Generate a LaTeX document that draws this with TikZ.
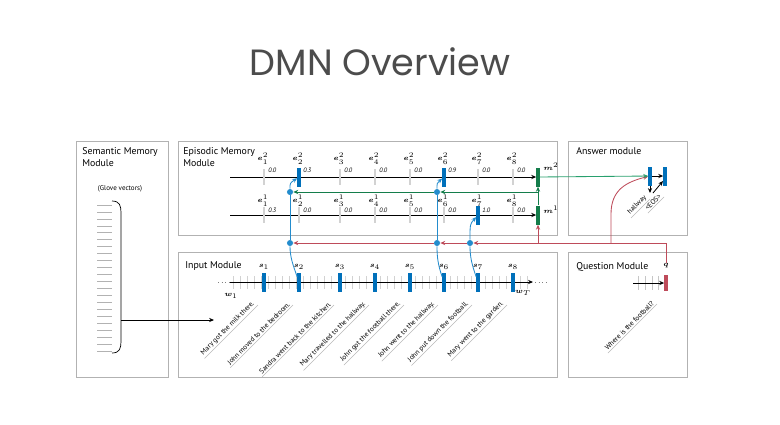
\documentclass[tikz,border=0pt]{standalone}
\usepackage{fontspec}
\usepackage{bm}
\setmainfont{PT Sans}
\newfontfamily\titlefont{Poppins}
\usetikzlibrary{arrows.meta,calc,positioning}

\definecolor{barblue}{RGB}{0,112,186}
\definecolor{attblue}{RGB}{35,140,205}
\definecolor{memgreen}{RGB}{20,125,75}
\definecolor{ansgreen}{RGB}{40,160,110}
\definecolor{qred}{RGB}{190,75,90}

\begin{document}
\begin{tikzpicture}[
  x=0.025cm, y=-0.025cm,
  modbox/.style={draw=gray!60, line width=0.7pt},
  modlabel/.style={anchor=north west, inner sep=0pt, align=left,
                   font=\fontsize{7}{8.5}\selectfont},
  etick/.style={fill=gray!35, inner sep=0pt, minimum width=2pt, minimum height=11.4pt},
  hbar/.style={fill=barblue, inner sep=0pt, minimum width=2.2pt, minimum height=13.5pt},
  mbar/.style={fill=memgreen, inner sep=0pt, minimum width=2.2pt, minimum height=13.5pt},
  qbar/.style={fill=qred, inner sep=0pt, minimum width=2.2pt, minimum height=12pt},
  elab/.style={inner sep=0pt, font=\fontsize{4.6}{5.5}\selectfont},
  val/.style={anchor=west, inner sep=0pt, font=\fontsize{4.5}{5}\selectfont\itshape},
  sent/.style={rotate=45, anchor=south east, inner sep=1pt,
               font=\fontsize{5}{6}\selectfont,
               append after command={(\tikzlastnode.south west) edge[draw=gray!55, line width=0.3pt] (\tikzlastnode.south east)}},
  dot/.style={circle, fill=attblue, inner sep=0pt, minimum size=4.3pt},
  tline/.style={line width=0.6pt},
  gline/.style={draw=memgreen, line width=0.6pt},
  rline/.style={draw=qred, line width=0.6pt},
  bline/.style={draw=attblue, line width=0.6pt},
  >={Stealth[length=3.5pt,width=3pt]}
]
\useasboundingbox (0,0) rectangle (780,424);
\fill[white] (0,0) rectangle (780,424);

% Title
\node[anchor=base, inner sep=0pt, font=\titlefont\fontsize{26}{30}\selectfont, text=black!70] (title) at (380,75) {DMN Overview};

% Module frames
\draw[modbox] (76,141) rectangle (168,377);
\draw[modbox] (178,141) rectangle (557,235);
\draw[modbox] (178,252) rectangle (557,377);
\draw[modbox] (568,141) rectangle (687,235);
\draw[modbox] (568,252) rectangle (687,377);

\node[modlabel] (semlab) at (82,147) {Semantic Memory\\Module};
\node[modlabel] (epilab) at (183,147) {Episodic Memory\\Module};
\node[modlabel] (inplab) at (185,261) {Input Module};
\node[modlabel] (anslab) at (576,147) {Answer module};
\node[modlabel] (qlab0) at (576,262) {Question Module};

% Semantic memory: glove vectors
\node[inner sep=0pt, font=\fontsize{5}{6}\selectfont] (glove) at (120,189) {(Glove vectors)};
\foreach \k in {0,...,21}{
  \draw[gray!60, line width=0.5pt] (97,205+\k*6.95) -- (112,205+\k*6.95);
}
\draw[line width=0.5pt] (112,201) .. controls (120,201) and (121,206) .. (121,213)
  -- (121,341) .. controls (121,348) and (120,353) .. (112,353);
\coordinate (gv) at (121,320);
\coordinate (gvin) at (214,320);
\draw[tline,->] (gv) -- (gvin);

% Episodic memory: pass 2 (top) and pass 1 (bottom)
\node[mbar] (m2) at (538,177) {};
\node[mbar] (m1) at (538,215) {};
\node[elab, anchor=west] (m2lab) at (543,167) {$\bm{m}^2$};
\node[elab, anchor=west] (m1lab) at (543,210) {$\bm{m}^1$};
\coordinate (ep2) at (230,177);
\coordinate (ep1) at (230,215);

\foreach \x/\v [count=\i] in {264/0.0, 299/0.3, 340/0.0, 375/0.0,
                              410/0.0, 444/0.9, 478/0.0, 513/0.0}{
  \node[elab] (e2l\i) at (\x-1,159) {$\bm{e}^2_{\i}$};
  \node[val] (v2\i) at (\x+4,170) {\v};
}
\foreach \x/\v [count=\i] in {264/0.3, 299/0.0, 340/0.0, 375/0.0,
                              410/0.0, 444/0.0, 478/1.0, 513/0.0}{
  \node[elab] (e1l\i) at (\x-1,201) {$\bm{e}^1_{\i}$};
  \node[val] (v1\i) at (\x+4,210) {\v};
}
\draw[tline,->] (ep2) -- (m2);
\draw[tline,->] (ep1) -- (m1);
\foreach \x/\st [count=\i] in {264/etick, 299/hbar, 340/etick, 375/etick,
                               410/etick, 444/hbar, 478/etick, 513/etick}{
  \node[\st] (t\i) at (\x,177) {};
}
\foreach \x/\st [count=\i] in {264/etick, 299/etick, 340/etick, 375/etick,
                               410/etick, 444/etick, 478/hbar, 513/etick}{
  \node[\st] (b\i) at (\x,215) {};
}

% Input module
\coordinate (in0) at (218,282);
\coordinate (in1) at (230,282);
\coordinate (in2) at (533,282);
\coordinate (in3) at (535,282);
\coordinate (in4) at (548,282);
\foreach \x in {233,240,...,530}{
  \draw[gray!35, line width=0.5pt] (\x,276) -- (\x,289);
}
\draw[gray, dotted, line width=0.6pt] (in0) -- (in1);
\draw[tline,->] (in1) -- (in2);
\draw[gray, dotted, line width=0.6pt] (in3) -- (in4);
\foreach \x/\txt [count=\i] in {264/Mary got the milk there.,
                                299/John moved to the bedroom.,
                                340/Sandra went back to the kitchen.,
                                375/Mary travelled to the hallway.,
                                410/John got the football there.,
                                444/John went to the hallway.,
                                478/John put down the football.,
                                513/Mary went to the garden.}{
  \node[hbar] (s\i) at (\x,282) {};
  \node[elab] (sl\i) at (\x,267) {$\bm{s}_{\i}$};
  \node[sent] (sen\i) at (\x-6,305) {\txt};
}
\node[elab] (w1) at (231,296) {$\bm{w}_1$};
\node[elab] (wT) at (523,293) {$\bm{w}_T$};

% Question module
\foreach \x in {638,645,652,658}{
  \draw[gray!45, line width=0.5pt] (\x,276) -- (\x,290);
}
\node[qbar] (q) at (666,283) {};
\node[elab] (qlab) at (666,266) {$\bm{q}$};
\coordinate (qin) at (633,283);
\draw[tline,->] (qin) -- (q);
\node[sent] (qsen) at (657,304) {Where is the football?};

% Answer module
\node[hbar] (a1) at (650,176) {};
\node[hbar] (a2) at (665,176) {};
\coordinate (adn) at (650,193);
\coordinate (adg) at (653,193);
\coordinate (aup) at (663,181);
\draw[tline,->] (a1) -- (a2);
\draw[tline,->] (a1) -- (adn);
\draw[tline,->] (adg) -- (aup);
\node[sent] (ahw) at (650,199) {hallway};
\node[sent] (aeos) at (664,197) {\textless EOS\textgreater};

% Attention dots
\node[dot] (gA) at (290,192) {};
\node[dot] (gB) at (437,192) {};
\node[dot] (fA) at (290,243) {};
\node[dot] (fB) at (437,243) {};
\node[dot] (fC) at (470,243) {};

% Question vector (red)
\coordinate (qturn) at (666,243);
\coordinate (ra) at (611,243);
\draw[rline] (qlab) -- (qturn) -- (ra);
\draw[rline,->] (ra) -- (fC);
\draw[rline,->] (fC) -- (fB);
\draw[rline,->] (fB) -- (fA);
\draw[rline,->] (m1 |- ra) -- (m1);
\draw[rline,->] (ra) -- (611,214) .. controls (611,190) and (626,182) .. (a1);

% Memory updates (green)
\draw[gline,->] (m1) -- (m2);
\draw[gline,->] (m1 |- gB) -- (gB);
\draw[gline,->] (gB) -- (gA);
\draw[draw=ansgreen, line width=0.6pt, ->] (m2) -- (a1);

% Attention (blue)
\draw[bline] (s2) .. controls (293,265) and (290,257) .. (fA);
\draw[bline] (fA) -- (gA);
\draw[bline,->] (gA) .. controls (290,183) .. (t2);
\draw[bline] (s6) .. controls (438,265) and (437,257) .. (fB);
\draw[bline] (fB) -- (gB);
\draw[bline,->] (gB) .. controls (437,183) .. (t6);
\draw[bline] (s7) .. controls (472,265) and (470,257) .. (fC);
\draw[bline,->] (fC) .. controls (470,224) .. (b7);

\end{tikzpicture}
\end{document}
